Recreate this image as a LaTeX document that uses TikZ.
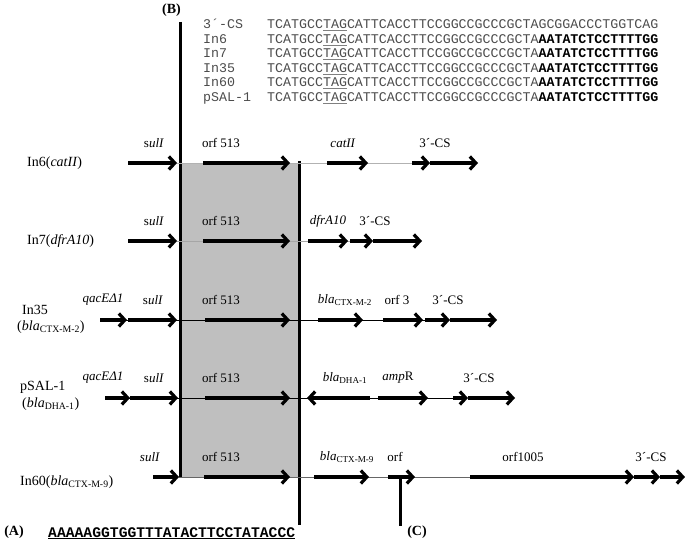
\documentclass[tikz,border=0pt]{standalone}
\usepackage{fontspec}
\setmainfont{Liberation Serif}
\setmonofont{Liberation Mono}
\usetikzlibrary{arrows.meta}
\definecolor{boxgray}{gray}{0.75}
\definecolor{seqgray}{gray}{0.3}
\newcommand\tagu{{\color{gray}\underline{\color{seqgray}TAG}}}
\newcommand\seqmid{TCATGCC\tagu CATTCACCTTCCGGCCGCCCGCTA}
\tikzset{
  gene/.style={line width=3.2pt, -{Straight Barb[length=6pt,width=13pt]}},
  rgene/.style={line width=3.2pt, {Straight Barb[length=6pt,width=13pt]}-},
  backbone/.style={line width=0.8pt},
  glabel/.style={font=\fontsize{13}{15}\selectfont, inner sep=0pt},
  rowlabel/.style={font=\fontsize{14}{16}\selectfont, inner sep=0pt, anchor=west},
  seqlab/.style={font=\fontsize{13.3}{14.5}\selectfont\ttfamily, inner sep=0pt, anchor=base west, text=seqgray},
  panel/.style={font=\bfseries\fontsize{14}{16}\selectfont, inner sep=0pt},
  vbar/.style={line width=3pt},
}
\begin{document}
\begin{tikzpicture}[x=1pt,y=-1pt]
\useasboundingbox (0,0) rectangle (685,545);

% panel B
\node[panel, anchor=east] (B) at (181,10) {(B)};
\foreach \y/\lab [count=\i] in {29/3´-CS,43.5/In6,58/In7,72.5/In35,87/In60,101.5/pSAL-1}{
  \node[seqlab] (sl\i) at (203,\y) {\lab};
}
\node[seqlab] (s1) at (267,29) {\seqmid GCGGACCCTGGTCAG};
\foreach \y [count=\i from 2] in {43.5,58,72.5,87,101.5}{
  \node[seqlab] (s\i) at (267,\y) {\seqmid\textbf{\color{black}AATATCTCCTTTTGG}};
}

% grey box and bars
\fill[boxgray] (180,163) rectangle (299,477);
\draw[vbar] (180,22) -- (180,477);
\draw[vbar] (299,161) -- (299,525);

% row labels
\node[rowlabel] (r1) at (27,163) {In6(\textit{catII})};
\node[rowlabel] (r2) at (27,241) {In7(\textit{dfrA10})};
\node[rowlabel] (r3a) at (22,310) {In35};
\node[rowlabel] (r3b) at (17,327) {(\textit{bla}\textsubscript{CTX-M-2})};
\node[rowlabel] (r4a) at (20,387) {pSAL-1};
\node[rowlabel] (r4b) at (22,404) {(\textit{bla}\textsubscript{DHA-1})};
\node[rowlabel] (r5) at (20,482) {In60(\textit{bla}\textsubscript{CTX-M-9})};

% In6
\draw[backbone, gray!60] (177,163) -- (430,163);
\draw[gene] (128,163) -- (177,163);
\draw[gene] (203,163) -- (290,163);
\draw[gene] (327,163) -- (368,163);
\draw[gene] (412,163) -- (430,163);
\draw[gene] (430,163) -- (478,163);
\node[glabel] at (154,143) {s\textit{ulI}};
\node[glabel] at (221,143) {orf 513};
\node[glabel] at (343,143) {\textit{catII}};
\node[glabel] at (435,143) {3´-CS};

% In7
\draw[backbone, gray!70] (177,241) -- (350,241);
\draw[gene] (128,241) -- (177,241);
\draw[gene] (203,241) -- (290,241);
\draw[gene] (308,241) -- (348,241);
\draw[gene] (350,241) -- (373,241);
\draw[gene] (373,241) -- (422,241);
\node[glabel] at (154,221) {s\textit{ulI}};
\node[glabel] at (221,221) {orf 513};
\node[glabel] at (328,221) {\textit{dfrA10}};
\node[glabel] at (375,221) {3´-CS};

% In35
\draw[backbone] (100,320) -- (425,320);
\draw[gene] (100,320) -- (127,320);
\draw[gene] (128,320) -- (177,320);
\draw[gene] (205,320) -- (290,320);
\draw[gene] (318,320) -- (363,320);
\draw[gene] (383,320) -- (423,320);
\draw[gene] (425,320) -- (450,320);
\draw[gene] (450,320) -- (497,320);
\node[glabel] at (103,300) {\textit{qacEΔ1}};
\node[glabel] at (153,300) {s\textit{ulI}};
\node[glabel] at (221,300) {orf 513};
\node[glabel] at (345,300) {\textit{bla}\textsubscript{CTX-M-2}};
\node[glabel] at (397,300) {orf 3};
\node[glabel] at (448,300) {3´-CS};

% pSAL-1
\draw[backbone] (105,398) -- (455,398);
\draw[gene] (105,398) -- (130,398);
\draw[gene] (130,398) -- (178,398);
\draw[gene] (205,398) -- (290,398);
\draw[rgene] (307,398) -- (370,398);
\draw[gene] (378,398) -- (428,398);
\draw[gene] (453,398) -- (468,398);
\draw[gene] (468,398) -- (515,398);
\node[glabel] at (103,378) {\textit{qacEΔ1}};
\node[glabel] at (154,378) {s\textit{ulI}};
\node[glabel] at (221,378) {orf 513};
\node[glabel] at (345,378) {\textit{bla}\textsubscript{DHA-1}};
\node[glabel] at (398,378) {\textit{amp}R};
\node[glabel] at (479,378) {3´-CS};

% In60
\draw[backbone, gray!80!black] (179,477) -- (634,477);
\draw[gene] (153,477) -- (179,477);
\draw[gene] (204,477) -- (290,477);
\draw[gene] (314,477) -- (369,477);
\draw[gene] (388,477) -- (415,477);
\draw[gene] (470,477) -- (634,477);
\draw[gene] (634,477) -- (660,477);
\draw[gene] (660,477) -- (685,477);
\draw[vbar] (400,477) -- (400,526);
\node[glabel] at (150,457) {\textit{sulI}};
\node[glabel] at (221,457) {orf 513};
\node[glabel] at (347,457) {\textit{bla}\textsubscript{CTX-M-9}};
\node[glabel] at (395,457) {orf};
\node[glabel] at (523,457) {orf1005};
\node[glabel] at (651,457) {3´-CS};

% panels A and C
\node[panel] (A) at (14,532) {(A)};
\node[font=\ttfamily\bfseries\fontsize{14.7}{16}\selectfont, inner sep=0pt, anchor=base west] (seqA) at (48,537) {\underline{AAAAAGGTGGTTTATACTTCCTATACCC}};
\node[panel] (C) at (417,532) {(C)};
\end{tikzpicture}
\end{document}
